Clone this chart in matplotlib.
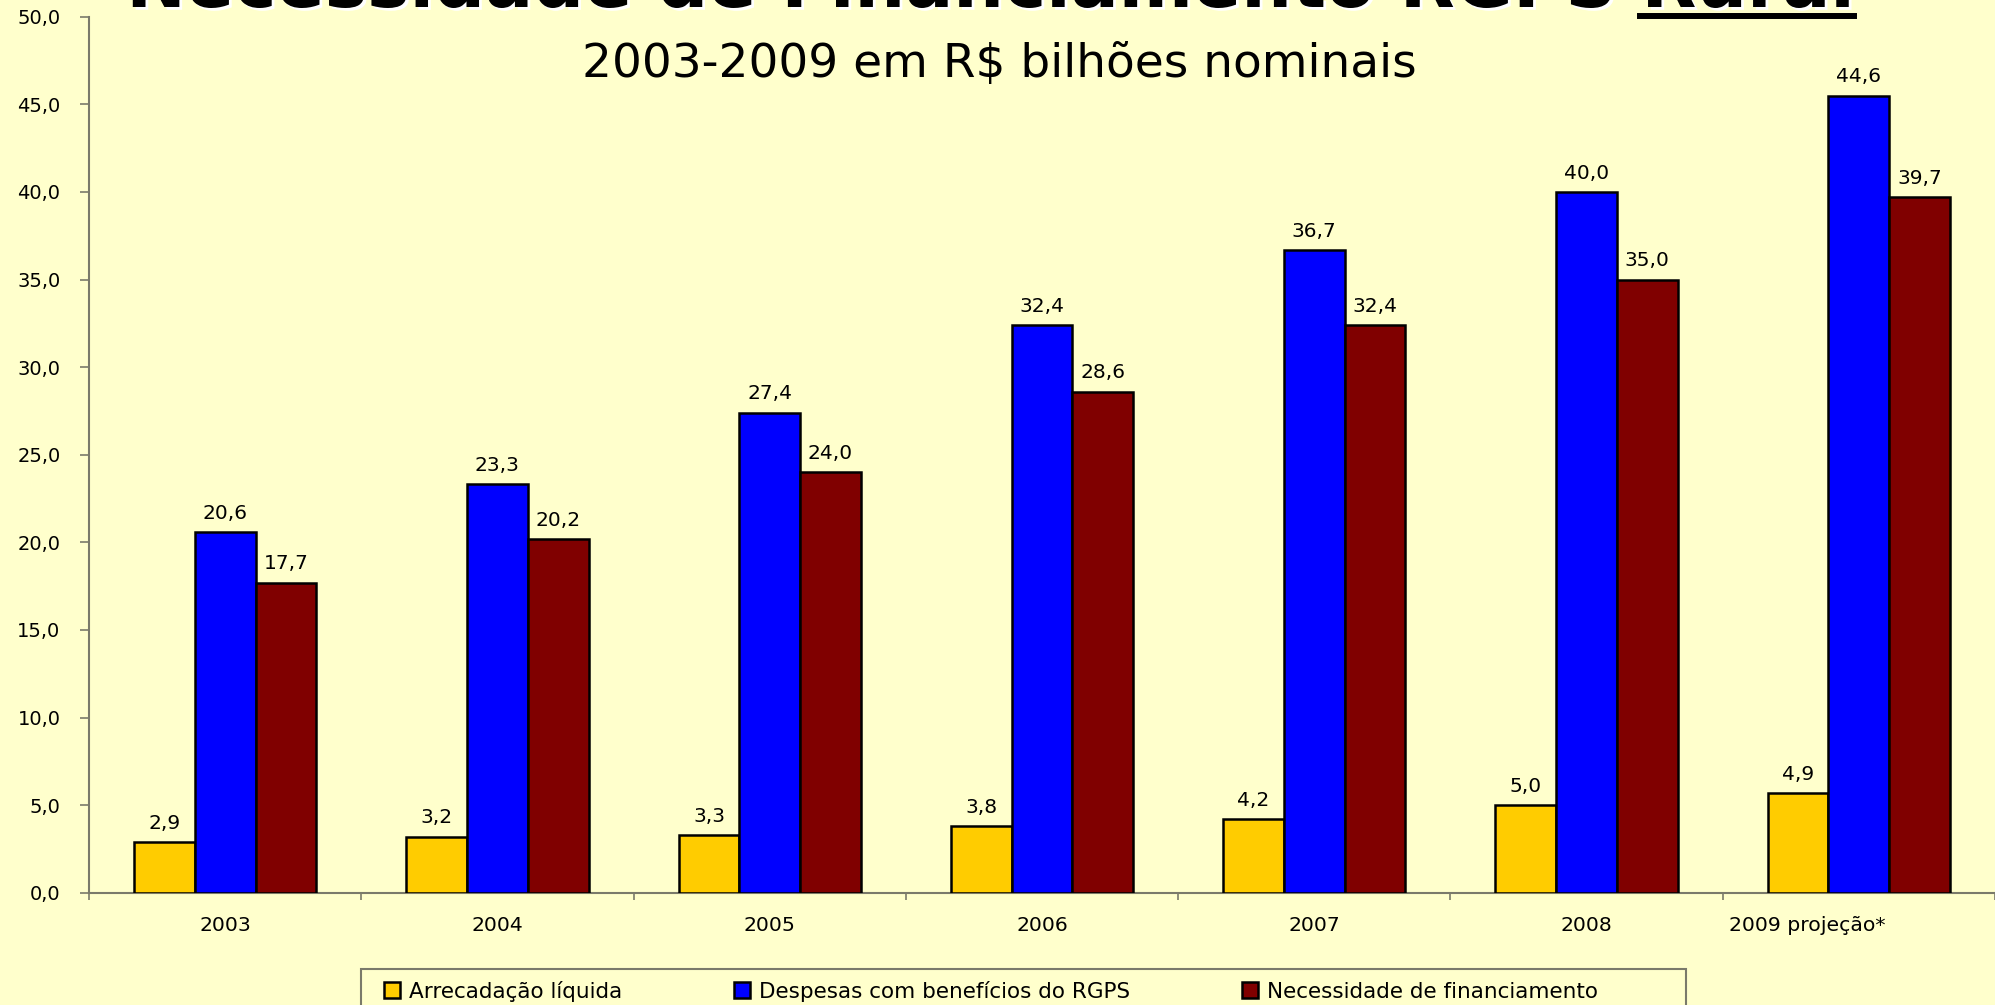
import matplotlib.pyplot as plt
import matplotlib.patheffects as pe
import matplotlib.transforms as mtransforms
from matplotlib.patches import Rectangle
from matplotlib.lines import Line2D

anos = ["2003", "2004", "2005", "2006", "2007", "2008", "2009 projeção*"]
arrecadacao = [2.9, 3.2, 3.3, 3.8, 4.2, 5.0, 5.7]
despesas = [20.6, 23.3, 27.4, 32.4, 36.7, 40.0, 45.5]
necessidade = [17.7, 20.2, 24.0, 28.6, 32.4, 35.0, 39.7]
# rotulos como aparecem no grafico original
rot_arrecadacao = ["2,9", "3,2", "3,3", "3,8", "4,2", "5,0", "4,9"]
rot_despesas = ["20,6", "23,3", "27,4", "32,4", "36,7", "40,0", "44,6"]
rot_necessidade = ["17,7", "20,2", "24,0", "28,6", "32,4", "35,0", "39,7"]
series = ["Arrecadação líquida", "Despesas com benefícios do RGPS", "Necessidade de financiamento"]

fundo = "#FFFFCC"
cores = ["#FFCC00", "#0000FF", "#800000"]
cinza = "#7a7a6a"

fig = plt.figure(figsize=(19.95, 10.05), dpi=100, facecolor=fundo)
ax = fig.add_axes([89 / 1995, 112.3 / 1005, 1 - 89 / 1995, 876 / 1005])
ax.set_facecolor(fundo)

x = list(range(len(anos)))
w = 0.223
grupos = [(arrecadacao, rot_arrecadacao), (despesas, rot_despesas), (necessidade, rot_necessidade)]
for i, (vals, rots) in enumerate(grupos):
    pos = [xi + (i - 1) * w for xi in x]
    bars = ax.bar(pos, vals, width=w, color=cores[i], edgecolor="black", linewidth=1.8,
                  label=series[i], zorder=3)
    for b, r in zip(bars, rots):
        ax.annotate(r, (b.get_x() + b.get_width() / 2, b.get_height()),
                    xytext=(0, 9.5), textcoords="offset points",
                    ha="center", va="baseline", fontsize=14.5, color="black")

ax.set_xlim(-0.5, 6.5)
ax.set_ylim(0, 50)
ax.set_yticks([i * 5 for i in range(11)])
ax.set_yticklabels([f"{i * 5:.1f}".replace(".", ",") for i in range(11)], fontsize=14)
ax.set_xticks(x)
ax.set_xticklabels(anos, fontsize=14.7)
ax.set_xticks([i - 0.5 for i in range(8)], minor=True)
ax.tick_params(axis="x", which="major", length=0, pad=17)
ax.tick_params(axis="x", which="minor", length=5, width=1.2, color=cinza)
ax.tick_params(axis="y", length=6.5, width=1.2, color=cinza, pad=14)

# ultimo rotulo deslocado para a esquerda, como no original
ultimo = ax.get_xticklabels()[-1]
ultimo.set_transform(ultimo.get_transform() +
                     mtransforms.ScaledTranslation(-0.52, 0, fig.dpi_scale_trans))

for s in ["top", "right"]:
    ax.spines[s].set_visible(False)
for s in ["left", "bottom"]:
    ax.spines[s].set_color(cinza)
    ax.spines[s].set_linewidth(1.5)

# titulo cortado no topo
fig.text(1854 / 1995, 1 - 7 / 1005, "Necessidade de Financiamento RGPS Rural",
         ha="right", va="baseline", fontsize=51.3, fontweight="bold", color="black",
         path_effects=[pe.withSimplePatchShadow(offset=(2, -2), shadow_rgbFace="white", alpha=1.0)])
fig.add_artist(Line2D([1640 / 1995, 1854 / 1995], [1 - 16 / 1005, 1 - 16 / 1005],
                      color="black", linewidth=4.3, transform=fig.transFigure))

fig.text(0.5 * (583 + 1415) / 1995, 1 - 64 / 1005, "2003-2009 em R$ bilhões nominais",
         ha="center", va="center", fontsize=33.8, color="black")

# legenda
fig.add_artist(Rectangle((361 / 1995, -0.05), (1686 - 361) / 1995, 0.05 + 1 - 969 / 1005,
                         transform=fig.transFigure, facecolor="none", edgecolor=cinza, linewidth=1.5))
fig.legend(loc="center left", bbox_to_anchor=(384 / 1995, 1 - 991 / 1005), ncol=3,
           frameon=False, fontsize=15.5, handlelength=0.75, handleheight=0.75,
           handletextpad=0.4, columnspacing=5.2, borderpad=0, borderaxespad=0)

fig.savefig("out.png", dpi=100, facecolor=fundo)
